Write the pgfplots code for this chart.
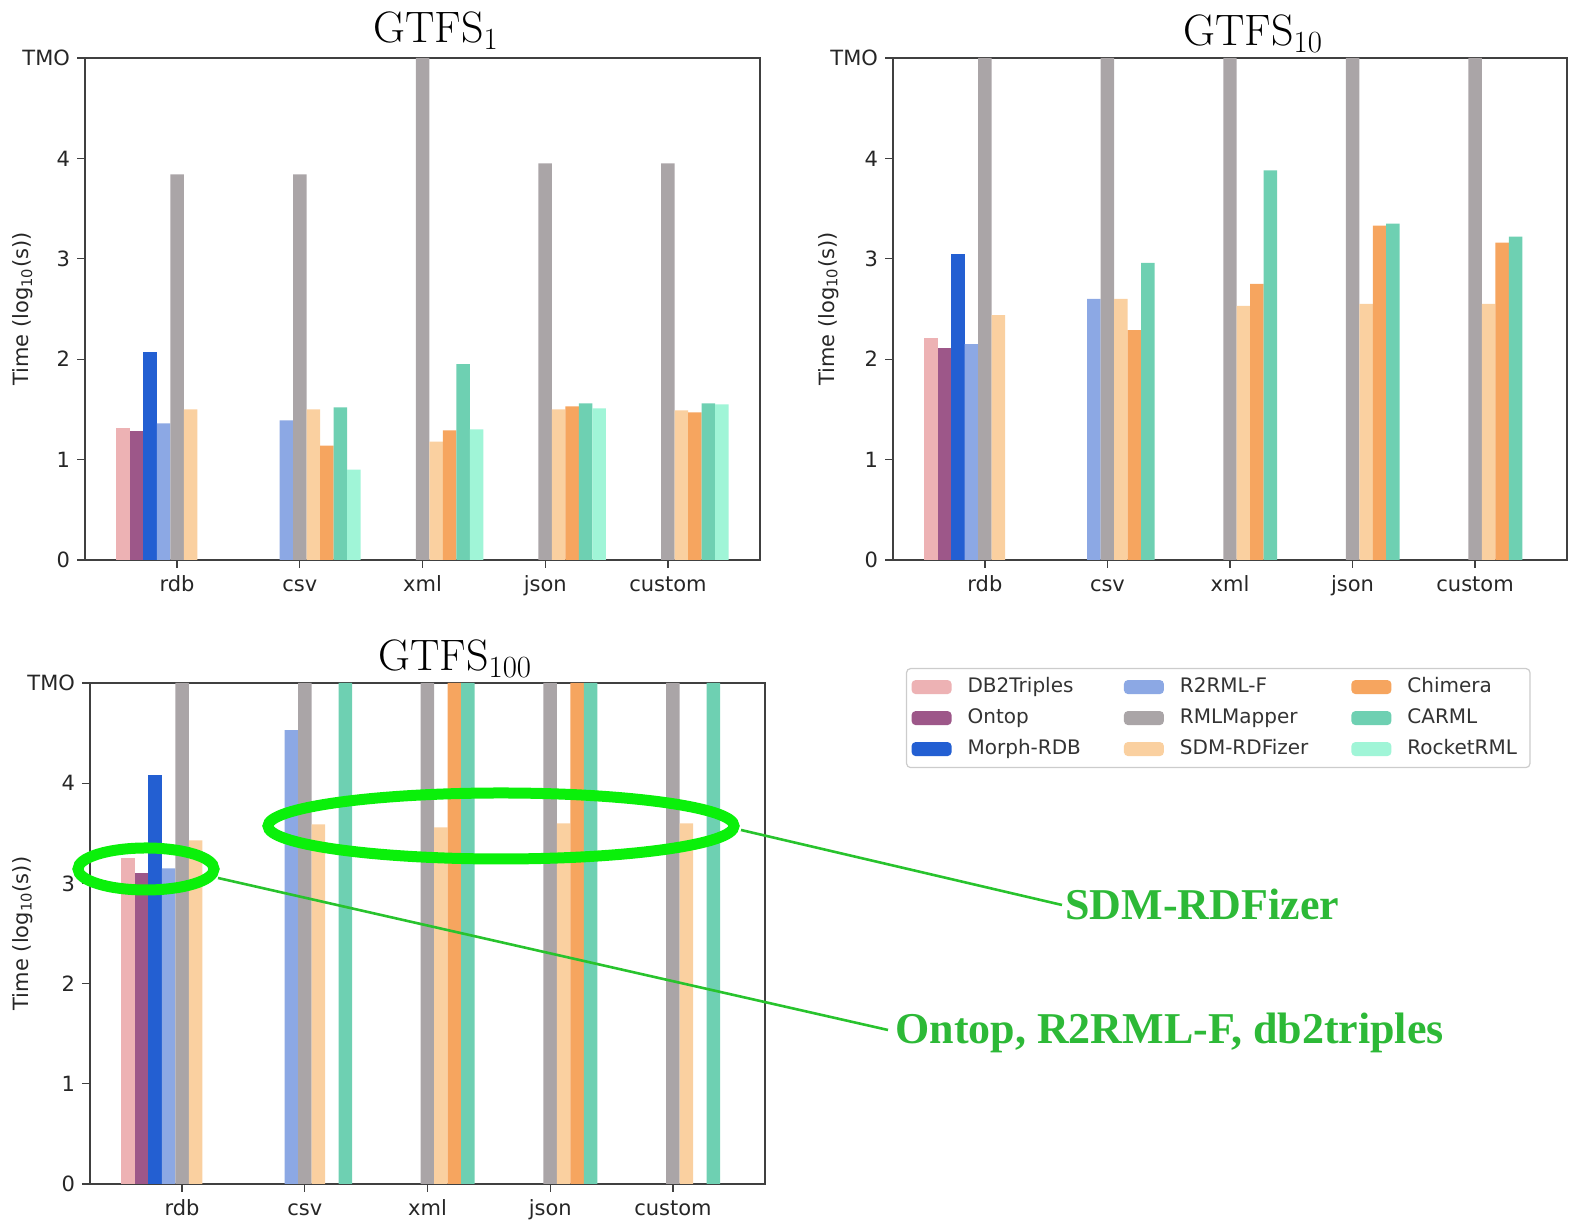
\documentclass[border=0pt]{standalone}
\usepackage{pgfplots}
\pgfplotsset{compat=1.18}
\usepackage{fontspec}
\newfontfamily\dejavu{DejaVu Sans}
\newfontfamily\annotfont{Liberation Serif}

\definecolor{c1}{RGB}{237,178,180}
\definecolor{c2}{RGB}{157,87,137}
\definecolor{c3}{RGB}{35,95,210}
\definecolor{c4}{RGB}{140,168,228}
\definecolor{c5}{RGB}{170,165,167}
\definecolor{c6}{RGB}{250,208,160}
\definecolor{c7}{RGB}{246,165,95}
\definecolor{c8}{RGB}{110,208,178}
\definecolor{c9}{RGB}{160,245,215}
\definecolor{ellg}{RGB}{10,240,10}
\definecolor{lineg}{RGB}{40,195,45}
\definecolor{txtg}{RGB}{45,185,55}

\pgfplotsset{
  gtfs/.style={
    scale only axis, width=337.5pt, height=251pt,
    xmin=-0.75, xmax=4.75, ymin=0, ymax=5,
    xtick={0,1,2,3,4}, xticklabels={rdb,csv,xml,json,custom},
    ytick={0,1,2,3,4,5}, yticklabels={0,1,2,3,4,TMO},
    tick pos=left, tick align=outside, major tick length=4pt,
    axis line style={draw=black!75, line width=0.8pt},
    major tick style={draw=black!75, line width=0.6pt},
    /pgf/number format/assume math mode=true,
    tick label style={font=\dejavu\fontsize{10.5}{12}\selectfont, text=black!85},
    xticklabel style={text height=8pt, text depth=2.5pt, anchor=north},
    ylabel={Time (log\textsubscript{10}(s))},
  },
  ylab/.style={every axis y label/.style={at={(axis description cs:#1,0.5)}, rotate=90, anchor=center, font=\dejavu\fontsize{10.5}{12}\selectfont, text=black!85}},
  b/.style 2 args={ybar, bar width=0.11, bar shift=#2, fill=#1, draw=none,
    legend image code/.code={\fill[fill=#1] (0pt,-3.5pt) rectangle (20pt,3.5pt);}},
}

\begin{document}
\begin{tikzpicture}
\path[use as bounding box] (0pt,0pt) rectangle (785.5pt,612pt);

% ---------------- GTFS 1 ----------------
\begin{axis}[gtfs, ylab=-0.092, at={(42.5pt,332pt)}, anchor=south west,
  legend columns=3, transpose legend, legend cell align=left,
  legend style={at={(1.2163,-0.2151)}, anchor=north west, draw=black!20, line width=0.6pt,
    rounded corners=2pt, inner xsep=2.5pt, inner ysep=1.5pt,
    font=\dejavu\fontsize{10}{12}\selectfont, text=black!80,
    nodes={inner xsep=4pt, inner ysep=2.5pt, text height=8pt, text depth=2.5pt},
    /tikz/every odd column/.append style={column sep=4pt},
    /tikz/every even column/.append style={column sep=17.5pt}}]
\addplot[b={c1}{-0.44}] coordinates {(0,1.31)};
\addplot[b={c2}{-0.33}] coordinates {(0,1.28)};
\addplot[b={c3}{-0.22}] coordinates {(0,2.07)};
\addplot[b={c4}{-0.11}] coordinates {(0,1.36) (1,1.39)};
\addplot[b={c5}{0}] coordinates {(0,3.84) (1,3.84) (2,5) (3,3.95) (4,3.95)};
\addplot[b={c6}{0.11}] coordinates {(0,1.50) (1,1.50) (2,1.18) (3,1.50) (4,1.49)};
\addplot[b={c7}{0.22}] coordinates {(1,1.14) (2,1.29) (3,1.53) (4,1.47)};
\addplot[b={c8}{0.33}] coordinates {(1,1.52) (2,1.95) (3,1.56) (4,1.56)};
\addplot[b={c9}{0.44}] coordinates {(1,0.90) (2,1.30) (3,1.51) (4,1.55)};
\legend{DB2Triples,Ontop,Morph-RDB,R2RML-F,RMLMapper,SDM-RDFizer,Chimera,CARML,RocketRML}
\end{axis}

% ---------------- GTFS 10 ----------------
\begin{axis}[gtfs, ylab=-0.096, width=337pt, at={(446.5pt,332pt)}, anchor=south west]
\addplot[b={c1}{-0.44}] coordinates {(0,2.21)};
\addplot[b={c2}{-0.33}] coordinates {(0,2.11)};
\addplot[b={c3}{-0.22}] coordinates {(0,3.05)};
\addplot[b={c4}{-0.11}] coordinates {(0,2.15) (1,2.60)};
\addplot[b={c5}{0}] coordinates {(0,5) (1,5) (2,5) (3,5) (4,5)};
\addplot[b={c6}{0.11}] coordinates {(0,2.44) (1,2.60) (2,2.53) (3,2.55) (4,2.55)};
\addplot[b={c7}{0.22}] coordinates {(1,2.29) (2,2.75) (3,3.33) (4,3.16)};
\addplot[b={c8}{0.33}] coordinates {(1,2.96) (2,3.88) (3,3.35) (4,3.22)};
\end{axis}

% ---------------- GTFS 100 ----------------
\begin{axis}[gtfs, ylab=-0.1, height=250.5pt, at={(45pt,20pt)}, anchor=south west]
\addplot[b={c1}{-0.44}] coordinates {(0,3.25)};
\addplot[b={c2}{-0.33}] coordinates {(0,3.10)};
\addplot[b={c3}{-0.22}] coordinates {(0,4.08)};
\addplot[b={c4}{-0.11}] coordinates {(0,3.15) (1,4.53)};
\addplot[b={c5}{0}] coordinates {(0,5) (1,5) (2,5) (3,5) (4,5)};
\addplot[b={c6}{0.11}] coordinates {(0,3.43) (1,3.59) (2,3.56) (3,3.60) (4,3.60)};
\addplot[b={c7}{0.22}] coordinates {(2,5) (3,5)};
\addplot[b={c8}{0.33}] coordinates {(1,5) (2,5) (3,5) (4,5)};
\end{axis}

% ---------------- titles and annotations ----------------
\begin{scope}[x=0.5pt,y=-0.5pt,shift={(0pt,612pt)}]
\node[anchor=base west, inner sep=0pt, font=\fontsize{22}{26}\selectfont] at (373,43) {GTFS\textsubscript{1}};
\node[anchor=base west, inner sep=0pt, font=\fontsize{22}{26}\selectfont] at (1183,46) {GTFS\textsubscript{10}};
\node[anchor=base west, inner sep=0pt, font=\fontsize{22}{26}\selectfont] at (378,671) {GTFS\textsubscript{100}};

\draw[ellg, line width=5.5pt] (501,826) ellipse [x radius=233, y radius=33];
\draw[ellg, line width=5.5pt] (146,869) ellipse [x radius=68, y radius=21];
\draw[lineg, line width=1.3pt] (741,830) -- (1062,905);
\draw[lineg, line width=1.3pt] (218,878) -- (888,1030);
\node[anchor=base west, inner sep=0pt, text=txtg, font=\annotfont\bfseries\fontsize{22}{26}\selectfont] at (1065,920) {SDM-RDFizer};
\node[anchor=base west, inner sep=0pt, text=txtg, font=\annotfont\bfseries\fontsize{22}{26}\selectfont] at (895,1044) {Ontop, R2RML-F, db2triples};
\end{scope}
\end{tikzpicture}
\end{document}
